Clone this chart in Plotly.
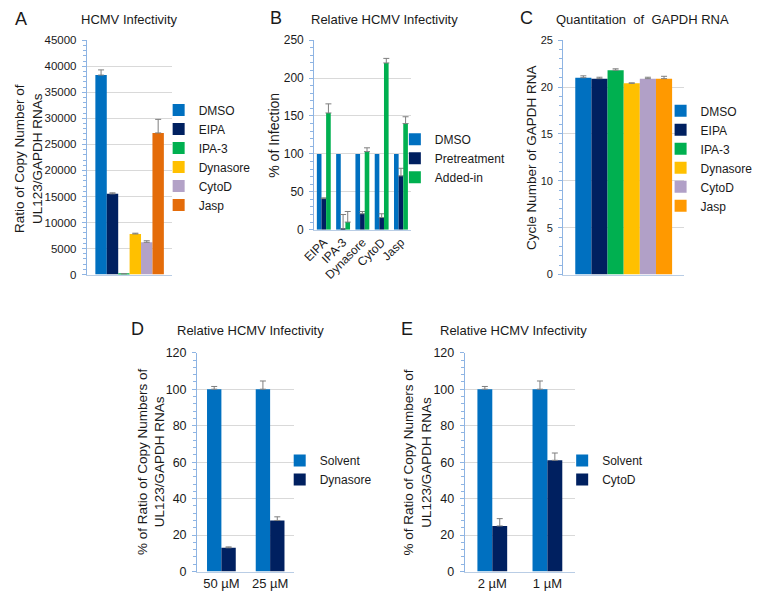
import plotly.graph_objects as go

W, H = 760, 600

# ---------------- data ----------------
# Panel A
a_series = ["DMSO", "EIPA", "IPA-3", "Dynasore", "CytoD", "Jasp"]
a_values = [38300, 15500, 120, 7800, 6200, 27200]
a_errors = [1000, 200, 40, 150, 300, 2600]
a_colors = ["#0070C0", "#002060", "#00B050", "#FFC000", "#B3A2C7", "#E46C0A"]

# Panel B
b_categories = ["EIPA", "IPA-3", "Dynasore", "CytoD", "Jasp"]
b_series = ["DMSO", "Pretreatment", "Added-in"]
b_values = [
    [100, 100, 100, 100, 100],
    [41, 1, 21, 16, 71],
    [154, 10, 103, 220, 140],
]
b_errors = [
    [0, 0, 0, 0, 0],
    [1, 19, 3, 5, 10],
    [12, 14, 5, 6, 9],
]
b_colors = ["#0070C0", "#002060", "#00B050"]

# Panel C
c_series = ["DMSO", "EIPA", "IPA-3", "Dynasore", "CytoD", "Jasp"]
c_values = [21.0, 20.9, 21.8, 20.4, 20.9, 20.9]
c_errors = [0.2, 0.15, 0.15, 0.05, 0.15, 0.25]
c_colors = ["#0070C0", "#002060", "#00B050", "#FFC000", "#B1A0C7", "#FF9900"]

# Panel D
d_categories = ["50 µM", "25 µM"]
d_series = ["Solvent", "Dynasore"]
d_values = [[100, 100], [13, 28]]
d_errors = [[1.5, 4.5], [0.5, 2]]

# Panel E
e_categories = ["2 µM", "1 µM"]
e_series = ["Solvent", "CytoD"]
e_values = [[100, 100], [25, 61]]
e_errors = [[1.5, 4.5], [4, 4]]
de_colors = ["#0070C0", "#002060"]

# ---------------- helpers ----------------
def px(x):
    return x / W

def py(y):
    return 1 - y / H

FONT = "Liberation Sans, Arial, sans-serif"
TXT = "#1a1a1a"
AXIS_BLUE = "#8EB4E3"
GRID = "#D9D9D9"
ERR = "#7F7F7F"

fig = go.Figure()


def add_group(xref, yref, legend, cats, names, vals, errs, colors, gap):
    n = len(names)
    gw = 1 - gap
    w = gw / n
    for i in range(n):
        fig.add_trace(go.Bar(
            x=cats, y=vals[i], name=names[i],
            marker=dict(color=colors[i], line=dict(width=0)),
            width=w, offset=-gw / 2 + i * w,
            error_y=dict(type="data", array=errs[i], arrayminus=[0] * len(cats),
                         symmetric=False, color=ERR, thickness=1, width=3,
                         visible=any(e > 0 for e in errs[i])),
            xaxis=xref, yaxis=yref, legend=legend,
        ))


add_group("x", "y", "legend", ["A"], a_series, [[v] for v in a_values],
          [[e] for e in a_errors], a_colors, 0.2)
add_group("x2", "y2", "legend2", b_categories, b_series, b_values, b_errors, b_colors, 0.28)
add_group("x3", "y3", "legend3", ["C"], c_series, [[v] for v in c_values],
          [[e] for e in c_errors], c_colors, 0.2)
add_group("x4", "y4", "legend4", d_categories, d_series, d_values, d_errors, de_colors, 0.41)
add_group("x5", "y5", "legend5", e_categories, e_series, e_values, e_errors, de_colors, 0.46)

# panel boxes (pixels): x0, x1, ytop, ybottom
boxes = {
    "": (76, 163, 34, 274),
    "2": (307, 405, 34, 228),
    "3": (560, 683, 34, 274),
    "4": (188, 287, 354, 578),
    "5": (460, 572, 354, 578),
}
yranges = {"": (45000, 5000, 11.5), "2": (250, 50, 12), "3": (25, 5, 11),
           "4": (120, 20, 12.5), "5": (120, 20, 12.5)}
xshow = {"": False, "2": True, "3": False, "4": True, "5": True}

layout = {}
for k, (x0, x1, yt, yb) in boxes.items():
    top, dt, fs = yranges[k]
    layout["xaxis" + k] = dict(
        domain=[px(x0), px(x1)], anchor="y" + k, type="category",
        showline=True, linecolor="#B9CDE5", linewidth=1, ticks="",
        showgrid=False, showticklabels=xshow[k],
        tickangle=-45 if k == "2" else 0,
        tickfont=dict(family=FONT, size=12 if k == "2" else 13, color=TXT),
        fixedrange=True,
    )
    layout["yaxis" + k] = dict(
        domain=[py(yb), py(yt)], anchor="x" + k, range=[0, top], dtick=dt, tick0=0,
        tickformat="d",
        showline=True, linecolor=AXIS_BLUE, linewidth=1,
        ticks="outside", ticklen=4, tickcolor=AXIS_BLUE,
        minor=dict(ticks="outside", ticklen=3, tickcolor=AXIS_BLUE, dtick=dt / 5, showgrid=False),
        showgrid=True, gridcolor=GRID, gridwidth=1, zeroline=False,
        tickfont=dict(family=FONT, size=fs, color=TXT), ticklabelstandoff=3,
        fixedrange=True,
    )

def legend_at(xl, ytop, size):
    return dict(x=px(xl), y=py(ytop), xanchor="left", yanchor="top",
                bgcolor="rgba(0,0,0,0)", borderwidth=0,
                font=dict(family=FONT, size=size, color=TXT),
                itemwidth=30, tracegroupgap=0, itemclick=False, itemdoubleclick=False)

layout["legend"] = legend_at(149, 90.5, 12)
layout["legend2"] = legend_at(389, 120.5, 12)
layout["legend3"] = legend_at(659, 91.5, 12)
layout["legend4"] = legend_at(272, 449.5, 12)
layout["legend5"] = legend_at(559, 449.5, 12)

annotations = []
def ann(text, x, y, size, angle=0, xanchor="center"):
    annotations.append(dict(text=text, x=px(x), y=py(y), xref="paper", yref="paper",
                            showarrow=False, xanchor=xanchor, yanchor="middle",
                            textangle=angle, font=dict(family=FONT, size=size, color=TXT)))

# panel letters
ann("A", 9, 12, 18)
ann("B", 268, 11, 18)
ann("C", 523, 11, 18)
ann("D", 128, 330, 18)
ann("E", 401, 330, 18)
# titles
ann("HCMV Infectivity", 119, 13, 13)
ann("Relative HCMV Infectivity", 378, 13, 13)
ann("Quantitation  of  GAPDH RNA", 641, 13, 13)
ann("Relative HCMV Infectivity", 242, 331, 13)
ann("Relative HCMV Infectivity", 510, 331, 13)
# y titles
ann("Ratio of Copy Number of<br>UL123/GAPDH RNAs", 17, 155, 13.5, -90)
ann("% of Infection", 266, 131, 14, -90)
ann("Cycle Number of GAPDH RNA", 528, 154, 13.5, -90)
ann("% of Ratio of Copy Numbers of<br>UL123/GAPDH RNAs", 141, 466, 13.5, -90)
ann("% of Ratio of Copy Numbers of<br>UL123/GAPDH RNAs", 412, 466, 13.5, -90)

fig.update_layout(
    **layout,
    annotations=annotations,
    width=W, height=H, autosize=False,
    margin=dict(l=0, r=0, t=0, b=0),
    paper_bgcolor="white", plot_bgcolor="white",
    barmode="overlay", showlegend=True,
    font=dict(family=FONT, color=TXT),
)

fig.write_html("out.html", config={"displayModeBar": False},
               post_script="document.body.style.margin='0px';document.body.style.padding='0px';")
